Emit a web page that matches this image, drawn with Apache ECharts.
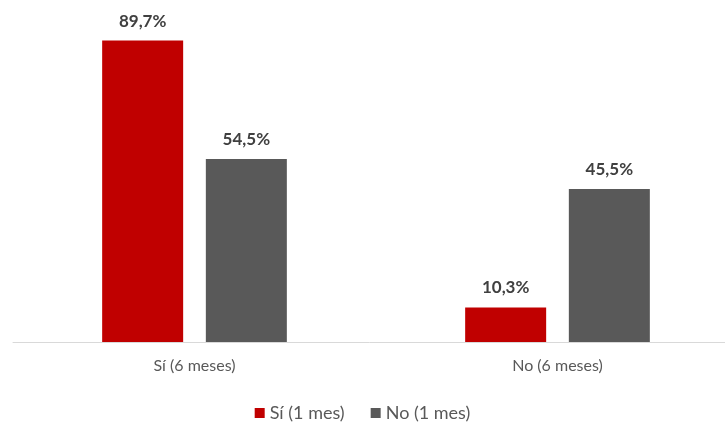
<!DOCTYPE html>
<html>
<head>
<meta charset="utf-8">
<script src="https://cdn.jsdelivr.net/npm/echarts@6/dist/echarts.min.js"></script>
<style>html,body{margin:0;padding:0;background:#fff}#c{width:725px;height:424px}</style>
</head>
<body>
<div id="c"></div>
<script>
var categories = ['Sí (6 meses)', 'No (6 meses)'];
var seriesNames = ['Sí (1 mes)', 'No (1 mes)'];
var siValues = [89.7, 10.3];
var noValues = [54.5, 45.5];

var chart = echarts.init(document.getElementById('c'));
var fmt = function (p) { return p.value.toFixed(1).replace('.', ',') + '%'; };
var labelStyle = { show: true, position: 'top', distance: 11, formatter: fmt, fontFamily: 'Lato', fontWeight: 'bold', fontSize: 17, color: '#404040' };
chart.setOption({
  animation: false,
  grid: { left: 13, width: 726, top: 6, bottom: 82, outerBoundsMode: 'none', containLabel: false },
  legend: {
    top: 399, left: 'center', itemWidth: 10, itemHeight: 10, itemGap: 26,
    icon: 'rect',
    textStyle: { fontFamily: 'Lato', fontSize: 18, color: '#595959' },
    data: seriesNames
  },
  xAxis: {
    type: 'category', data: categories,
    axisLine: { lineStyle: { color: '#d9d9d9', width: 1 } },
    axisTick: { show: false },
    axisLabel: { fontFamily: 'Lato', fontSize: 16, color: '#595959', margin: 16 }
  },
  yAxis: { type: 'value', min: 0, max: 100, show: false, splitLine: { show: false } },
  series: [
    { name: seriesNames[0], type: 'bar', data: siValues, barWidth: 81, barGap: '28%', itemStyle: { color: '#c00000' }, label: labelStyle },
    { name: seriesNames[1], type: 'bar', data: noValues, barWidth: 81, itemStyle: { color: '#595959' }, label: labelStyle }
  ]
});
</script>
</body>
</html>
